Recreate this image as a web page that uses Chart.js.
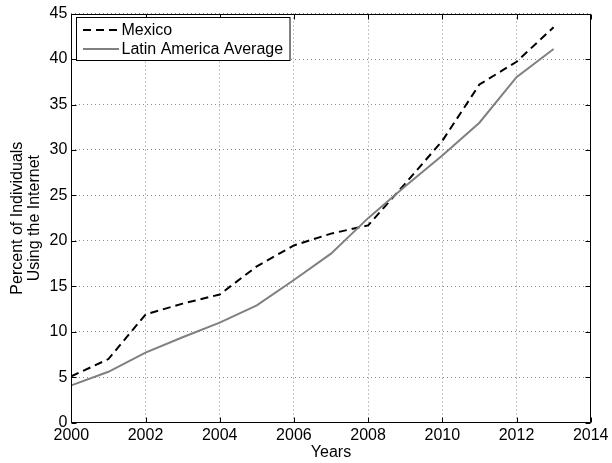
<!DOCTYPE html>
<html>
<head>
<meta charset="utf-8">
<script src="https://cdn.jsdelivr.net/npm/chart.js@4.4.1/dist/chart.umd.min.js"></script>
<style>
  html, body { margin: 0; padding: 0; background: #fff; }
  #wrap { width: 612px; height: 463px; }
</style>
</head>
<body>
<div id="wrap"><canvas id="netChart" width="612" height="463"></canvas></div>
<script>
'use strict';

// ── Data ──────────────────────────────────────────────────────────
const YEARS   = [2000, 2001, 2002, 2003, 2004, 2005, 2006, 2007, 2008, 2009, 2010, 2011, 2012, 2013];
const MEXICO  = [5.1, 7.0, 11.9, 13.1, 14.1, 17.2, 19.5, 20.8, 21.7, 26.3, 31.0, 37.2, 39.7, 43.5];
const LATAM   = [4.1, 5.6, 7.7, 9.4, 11.0, 12.9, 15.7, 18.6, 22.5, 26.0, 29.4, 33.0, 38.0, 41.1];
const X_TICKS = [2000, 2002, 2004, 2006, 2008, 2010, 2012, 2014];
const Y_TICKS = [0, 5, 10, 15, 20, 25, 30, 35, 40, 45];
const SERIES  = ['Mexico', 'Latin America Average'];
const X_TITLE = 'Years';
const Y_TITLE = ['Percent of Individuals', 'Using the Internet'];

const FAMILY = '"Liberation Sans", Arial, Helvetica, sans-serif';
const FSIZE  = 16;
const TICK_IN = 5;

// ── Frame, inward ticks and legend (MATLAB look) ──────────────────
const framePlugin = {
  id: 'frame',
  afterDatasetsDraw(chart) {
    const { ctx, chartArea: a, scales: { x, y } } = chart;
    const L = Math.round(a.left) + 0.5, R = Math.round(a.right) - 0.5;
    const T = Math.round(a.top) + 0.5,  B = Math.round(a.bottom) - 0.5;
    ctx.save();
    ctx.strokeStyle = '#000';
    ctx.lineWidth = 1;
    ctx.setLineDash([]);
    ctx.beginPath();
    ctx.rect(L, T, R - L, B - T);
    X_TICKS.forEach(v => {
      const px = Math.round(x.getPixelForValue(v)) + 0.5;
      ctx.moveTo(px, B); ctx.lineTo(px, B - TICK_IN);
      ctx.moveTo(px, T); ctx.lineTo(px, T + TICK_IN);
    });
    Y_TICKS.forEach(v => {
      const py = Math.round(y.getPixelForValue(v)) + 0.5;
      ctx.moveTo(L, py); ctx.lineTo(L + TICK_IN, py);
      ctx.moveTo(R, py); ctx.lineTo(R - TICK_IN, py);
    });
    ctx.stroke();

    // legend box
    const bx = 76.5, by = 17.5, bw = 213.5, bh = 43;
    ctx.fillStyle = '#fff';
    ctx.fillRect(bx, by, bw, bh);
    ctx.strokeRect(bx, by, bw, bh);
    ctx.font = FSIZE + 'px ' + FAMILY;
    ctx.textBaseline = 'middle';
    ctx.textAlign = 'left';
    chart.data.datasets.forEach((ds, i) => {
      const ly = i === 0 ? 30 : 49;
      ctx.beginPath();
      ctx.strokeStyle = ds.borderColor;
      ctx.lineWidth = ds.borderWidth;
      ctx.setLineDash(ds.borderDash || []);
      ctx.moveTo(83, ly); ctx.lineTo(119, ly);
      ctx.stroke();
      ctx.fillStyle = '#000';
      ctx.fillText(ds.label, 121.5, ly + 0.5);
    });
    ctx.restore();
  },
};

// ── Chart ─────────────────────────────────────────────────────────
const tickFont = { family: FAMILY, size: FSIZE };
const gridOpts = { color: '#8a8a8a', lineWidth: 1, drawTicks: false };
const borderOpts = { display: false, dash: [1, 3] };

new Chart(document.getElementById('netChart').getContext('2d'), {
  type: 'line',
  data: {
    labels: YEARS,
    datasets: [
      {
        label: SERIES[0],
        data: YEARS.map((yr, i) => ({ x: yr, y: MEXICO[i] })),
        borderColor: '#000000',
        borderWidth: 2,
        borderDash: [8, 5],
        pointRadius: 0,
        tension: 0,
        fill: false,
        order: 1,
      },
      {
        label: SERIES[1],
        data: YEARS.map((yr, i) => ({ x: yr, y: LATAM[i] })),
        borderColor: '#808080',
        borderWidth: 2,
        pointRadius: 0,
        tension: 0,
        fill: false,
        order: 0,
      },
    ],
  },
  options: {
    responsive: false,
    animation: false,
    devicePixelRatio: 1,
    layout: { padding: { top: 11.7, right: 19.3, bottom: 0, left: 0 } },
    scales: {
      x: {
        type: 'linear',
        min: 2000, max: 2014,
        afterBuildTicks: s => { s.ticks = X_TICKS.map(v => ({ value: v })); },
        afterFit: s => { s.height = 40.3; },
        ticks: { color: '#000', font: tickFont, padding: 3.5, maxRotation: 0, callback: v => String(v) },
        grid: gridOpts,
        border: borderOpts,
        title: { display: true, text: X_TITLE, color: '#000', font: tickFont, padding: { top: 0, bottom: 0.5 } },
      },
      y: {
        min: 0, max: 45,
        afterBuildTicks: s => { s.ticks = Y_TICKS.map(v => ({ value: v })); },
        afterFit: s => { s.width = 71.3; },
        ticks: { color: '#000', font: tickFont, padding: 4, callback: v => String(v) },
        grid: gridOpts,
        border: borderOpts,
        title: { display: true, text: Y_TITLE, color: '#000', font: { family: FAMILY, size: FSIZE, lineHeight: 1.1 }, padding: { top: 8.5, bottom: 0 } },
      },
    },
    plugins: {
      legend: { display: false },
      tooltip: { enabled: false },
    },
  },
  plugins: [framePlugin],
});
</script>
</body>
</html>
